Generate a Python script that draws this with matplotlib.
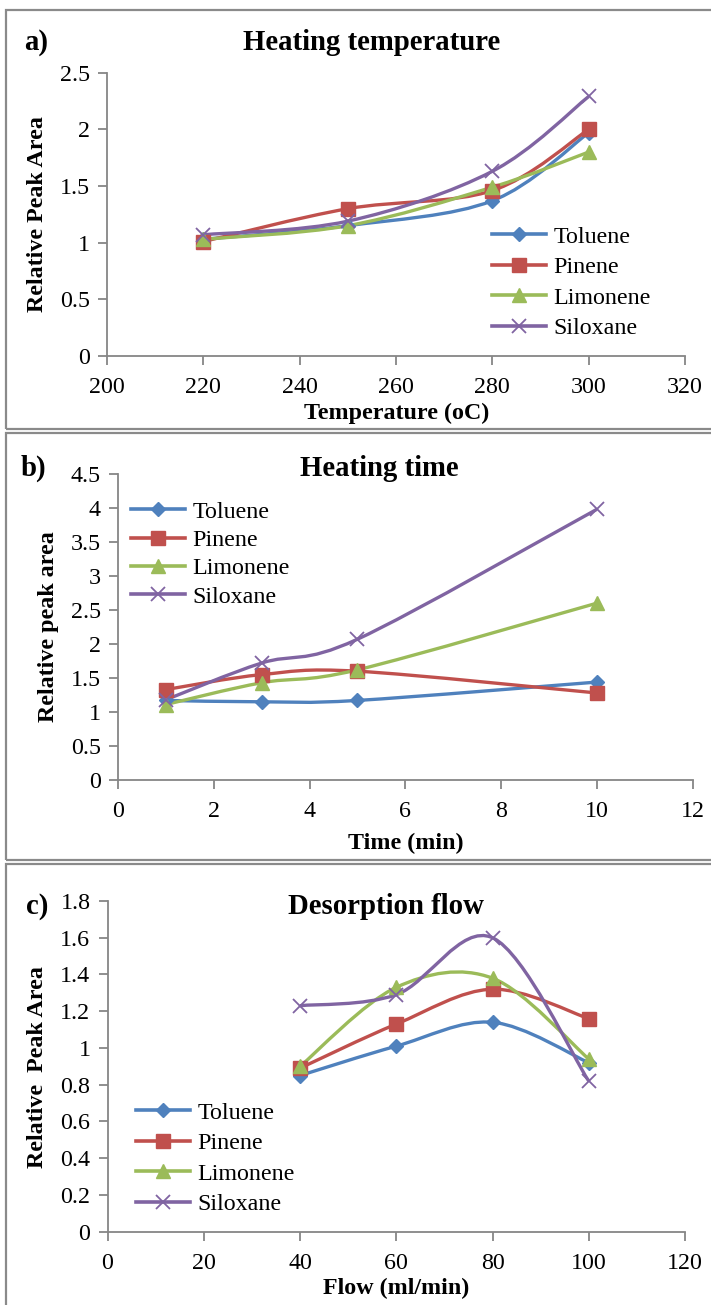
import numpy as np
import matplotlib
matplotlib.use("Agg")
import matplotlib.pyplot as plt
from matplotlib.path import Path
from matplotlib.patches import PathPatch, Rectangle
from matplotlib.ticker import FuncFormatter, MultipleLocator

plt.rcParams['font.family'] = ['Liberation Serif', 'DejaVu Serif']

series_names = ["Toluene", "Pinene", "Limonene", "Siloxane"]
colors = ["#4F81BD", "#C0504D", "#9BBB59", "#8064A2"]
markers = ["D", "s", "^", "x"]

# Panel a: heating temperature
temp_x = [220, 250, 280, 300]
temp_toluene = [1.03, 1.15, 1.37, 1.97]
temp_pinene = [1.01, 1.30, 1.46, 2.00]
temp_limonene = [1.03, 1.15, 1.49, 1.80]
temp_siloxane = [1.07, 1.19, 1.63, 2.29]

# Panel b: heating time
time_x = [1, 3, 5, 10]
time_toluene = [1.17, 1.15, 1.17, 1.44]
time_pinene = [1.33, 1.55, 1.60, 1.28]
time_limonene = [1.11, 1.43, 1.62, 2.60]
time_siloxane = [1.18, 1.72, 2.07, 3.98]

# Panel c: desorption flow
flow_x = [40, 60, 80, 100]
flow_toluene = [0.85, 1.01, 1.14, 0.92]
flow_pinene = [0.89, 1.13, 1.32, 1.16]
flow_limonene = [0.90, 1.33, 1.38, 0.94]
flow_siloxane = [1.23, 1.29, 1.60, 0.82]

W, H = 711, 1305
fig = plt.figure(figsize=(W / 100, H / 100), dpi=100)

def fx(px):
    return px / W

def fy(py):
    return 1 - py / H

GRAY = "#868686"
TICK_FS = 17.3
LAB_FS = 17.3
TITLE_FS = 20.7
MSIZE = {"D": 7.0, "s": 10.0, "^": 10.0, "x": 10.0}

def smooth_path(x, y):
    pts = np.column_stack([x, y]).astype(float)
    n = len(pts)
    verts = [pts[0]]
    codes = [Path.MOVETO]
    for i in range(n - 1):
        p0 = pts[i - 1] if i > 0 else pts[i]
        p1 = pts[i]
        p2 = pts[i + 1]
        p3 = pts[i + 2] if i + 2 < n else pts[i + 1]
        c1 = p1 + (p2 - p0) / 6.0
        c2 = p2 - (p3 - p1) / 6.0
        verts += [c1, c2, p2]
        codes += [Path.CURVE4] * 3
    return Path(verts, codes)

def fmt(v, pos):
    return "%g" % round(v, 6)

def make_panel(rect, x, ys, xlim, xstep, ylim, ystep, title, title_xy,
               letter, letter_xy, xlabel, xlabel_xy, ylabel, ylabel_xy,
               leg_xy, leg_spacing):
    ax = fig.add_axes(rect)
    for y, c, m, name in zip(ys, colors, markers, series_names):
        patch = PathPatch(smooth_path(x, y), fill=False, edgecolor=c, lw=2.4,
                          transform=ax.transData, zorder=2)
        ax.add_patch(patch)
        ax.plot(x, y, linestyle="none", marker=m, color=c, markersize=MSIZE[m],
                markeredgewidth=(1.3 if m == "x" else 1.0), zorder=3)
        ax.plot([], [], color=c, lw=2.6, marker=m, markersize=MSIZE[m],
                markeredgewidth=(1.3 if m == "x" else 1.0), label=name)
    ax.set_xlim(*xlim)
    ax.set_ylim(*ylim)
    ax.xaxis.set_major_locator(MultipleLocator(xstep))
    ax.yaxis.set_major_locator(MultipleLocator(ystep))
    ax.xaxis.set_major_formatter(FuncFormatter(fmt))
    ax.yaxis.set_major_formatter(FuncFormatter(fmt))
    for s in ["top", "right"]:
        ax.spines[s].set_visible(False)
    for s in ["left", "bottom"]:
        ax.spines[s].set_color(GRAY)
        ax.spines[s].set_linewidth(1.3)
    ax.tick_params(axis="both", direction="out", length=6.5, width=1.3,
                   color=GRAY, labelsize=TICK_FS, labelcolor="black")
    ax.tick_params(axis="x", pad=8.5)
    ax.tick_params(axis="y", pad=5.8)
    ax.patch.set_alpha(0)
    fig.text(fx(title_xy[0]), fy(title_xy[1]), title, ha="center", va="center",
             fontsize=TITLE_FS, fontweight="bold")
    fig.text(fx(letter_xy[0]), fy(letter_xy[1]), letter, ha="left", va="center",
             fontsize=TITLE_FS, fontweight="bold")
    fig.text(fx(xlabel_xy[0]), fy(xlabel_xy[1]), xlabel, ha="center", va="center",
             fontsize=LAB_FS, fontweight="bold")
    fig.text(fx(ylabel_xy[0]), fy(ylabel_xy[1]), ylabel, ha="center", va="center",
             fontsize=LAB_FS, fontweight="bold", rotation=90)
    ax.legend(loc="upper left", bbox_to_anchor=(fx(leg_xy[0]), fy(leg_xy[1])),
              bbox_transform=fig.transFigure, frameon=False, fontsize=LAB_FS,
              borderpad=0, borderaxespad=0, handlelength=2.25,
              handletextpad=0.3, labelspacing=leg_spacing)
    return ax

# panel frames
for top, bot in [(10, 429), (433, 860), (864, 1310)]:
    fig.add_artist(Rectangle((fx(6), fy(bot)), fx(720) - fx(6), fy(top) - fy(bot),
                             transform=fig.transFigure, fill=False,
                             edgecolor="#8a8a8a", lw=1.6))

make_panel([fx(107), fy(356), fx(685) - fx(107), fy(72.7) - fy(356)],
           temp_x, [temp_toluene, temp_pinene, temp_limonene, temp_siloxane],
           (200, 320), 20, (0, 2.5), 0.5,
           "Heating temperature", (372, 42), "a)", (24, 42),
           "Temperature (oC)", (397, 413), "Relative Peak Area", (38, 214),
           (492, 226), 0.36)

make_panel([fx(118), fy(780), fx(692.5) - fx(118), fy(474) - fy(780)],
           time_x, [time_toluene, time_pinene, time_limonene, time_siloxane],
           (0, 12), 2, (0, 4.5), 0.5,
           "Heating time", (379, 468), "b)", (21, 468),
           "Time (min)", (406, 843), "Relative peak area", (49, 627),
           (131, 501), 0.27)

make_panel([fx(107.5), fy(1231.7), fx(685) - fx(107.5), fy(901) - fy(1231.7)],
           flow_x, [flow_toluene, flow_pinene, flow_limonene, flow_siloxane],
           (0, 120), 20, (0, 1.8), 0.2,
           "Desorption flow", (386, 907), "c)", (26, 907),
           "Flow (ml/min)", (396, 1288), "Relative  Peak Area", (38, 1067),
           (136, 1102), 0.36)

fig.savefig("out.png", dpi=100)
